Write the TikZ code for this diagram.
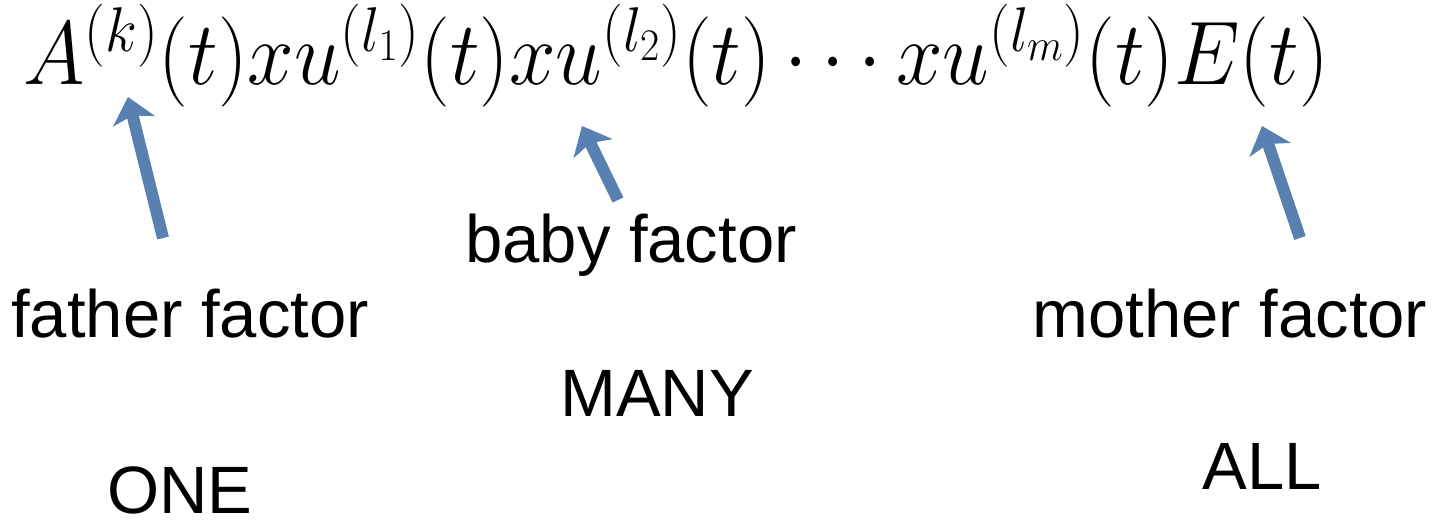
\documentclass[tikz,border=0pt]{standalone}
\usepackage{fix-cm}
\usepackage{amsmath}
\usepackage{fontspec}
\newfontfamily\labelfont{Liberation Sans}
\usepackage{tikz}
\usetikzlibrary{arrows.meta}
\definecolor{factorblue}{RGB}{88,128,176}

\begin{document}
\begin{tikzpicture}[
  x=0.5pt, y=-0.5pt,
  formula/.style={inner sep=0pt, anchor=base, font=\fontsize{41.8}{48}\selectfont,
                  yscale=1.08, transform shape},
  factorlabel/.style={inner sep=0pt, anchor=base, font=\labelfont\fontsize{33.5}{40}\selectfont},
  pointer/.style={draw=factorblue, line width=6pt,
                  -{Stealth[length=12.5pt, width=21.5pt, inset=3pt]}}
]
  \useasboundingbox (0,0) rectangle (1434,525);

  % =============================================================
  % The product
  % =============================================================
  \node[formula] (prod) at (676,84)
    {$A^{(k)}(t)xu^{(l_1)}(t)xu^{(l_2)}(t)\cdots xu^{(l_m)}(t)E(t)$};

  % =============================================================
  % Labels
  % =============================================================
  \node[factorlabel] (father) at (190,337) {father factor};
  \node[factorlabel] (baby)   at (631,262) {baby factor};
  \node[factorlabel] (mother) at (1230,337) {mother factor};

  \node[factorlabel] (one)  at (180,513) {ONE};
  \node[factorlabel] (many) at (657,416) {MANY};
  \node[factorlabel] (all)  at (1262,489) {ALL};

  % =============================================================
  % Pointers up to the factors
  % =============================================================
  \coordinate (fatherTail) at (163,238);
  \coordinate (fatherTip)  at (128,97);
  \coordinate (babyTail)   at (618,200);
  \coordinate (babyTip)    at (582,126);
  \coordinate (motherTail) at (1300,238);
  \coordinate (motherTip)  at (1262,126);

  \draw[pointer] (fatherTail) -- (fatherTip);
  \draw[pointer] (babyTail) -- (babyTip);
  \draw[pointer] (motherTail) -- (motherTip);
\end{tikzpicture}
\end{document}
